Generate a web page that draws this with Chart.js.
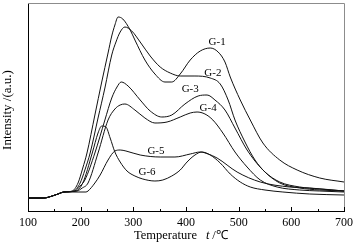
<!DOCTYPE html>
<html>
<head>
<meta charset="utf-8">
<script src="https://cdn.jsdelivr.net/npm/chart.js@4"></script>
<style>
html, body { margin: 0; padding: 0; background: #fff; }
</style>
</head>
<body>
<canvas id="tpd" width="359" height="246"></canvas>
<script>
// curves: temperature (C) and intensity (a.u.)
const g1Temp = [100,130,146,157,168,184,195,204,212,227,240,252,259,265,271,280,294,303,322,341,360,373,389,408,427,446,461,474,484,503,522,546,578,611,654,700];
const g1Int  = [13,13,15,17,19,20,28,43,58,96,129,158,175,186,194,192,181,171,151,137,129,129,137,151,160,163,159,149,134,111,91,68,51,41,33,29];

const g2Temp = [100,130,146,157,168,187,199,208,218,233,246,259,267,275,284,297,313,332,351,370,389,417,446,465,480,493,512,531,550,578,616,654,700];
const g2Int  = [13,13,15,17,19,20,28,41,58,93,123,156,169,179,184,180,169,155,144,138,135,135,133,127,111,91,69,51,39,29,24,22,20];

const g3Temp = [100,130,146,157,168,189,199,208,227,246,259,269,277,290,313,332,354,373,398,423,440,455,474,493,516,546,578,616,654,700];
const g3Int  = [13,13,15,17,19,20,25,31,58,91,113,124,129,125,111,100,94,96,107,115,116,111,101,83,61,41,28,23,21,20];

const g4Temp = [100,130,146,157,168,193,203,214,233,252,265,275,284,303,322,341,364,389,408,421,436,451,470,493,516,541,573,616,654,700];
const g4Int  = [13,13,15,17,19,20,23,28,58,91,102,106,107,101,93,88,89,94,98,99,97,91,78,59,44,31,24,21,20,19];

const g5Temp = [100,130,146,157,168,210,214,227,237,252,265,275,286,313,351,379,408,427,442,459,497,541,597,635,700];
const g5Int  = [13,13,15,17,19,19,20,28,36,51,60,61,60,56,54,54,57,59,57,53,39,29,24,23,20];

const g6Temp = [100,130,146,157,168,191,204,222,233,240,248,256,265,275,288,303,318,341,356,373,389,402,417,430,446,465,484,503,522,550,584,635,700];
const g6Int  = [13,13,15,17,19,20,28,58,78,85,84,73,59,49,40,35,32,30,31,35,41,49,56,59,56,48,37,29,24,21,19,17,16];

const seriesNames = ['G-1', 'G-2', 'G-3', 'G-4', 'G-5', 'G-6'];
const labelTemp = [459, 451, 408, 442, 343, 326];
const labelInt  = [169, 138, 122, 103, 60, 39];
const xTickLabels = [100, 200, 300, 400, 500, 600, 700];

const serif = "'Liberation Serif', 'Times New Roman', serif";

const toPoints = (temps, vals) => temps.map((t, i) => ({x: t, y: vals[i]}));
const curves = [[g1Temp, g1Int], [g2Temp, g2Int], [g3Temp, g3Int], [g4Temp, g4Int], [g5Temp, g5Int], [g6Temp, g6Int]];

// frame on top/right, inward ticks, curve names and axis titles
const decorations = {
    id: 'decorations',
    afterDraw(chart) {
        const {ctx, chartArea: a, scales: {x, y}} = chart;
        ctx.save();
        ctx.lineWidth = 1;
        ctx.strokeStyle = '#8c8c8c';
        ctx.beginPath();
        ctx.moveTo(a.left, a.top + 0.5);
        ctx.lineTo(a.right + 0.5, a.top + 0.5);
        ctx.lineTo(a.right + 0.5, a.bottom);
        ctx.stroke();

        ctx.strokeStyle = '#000';
        ctx.beginPath();
        xTickLabels.forEach((t, i) => {
            const px = Math.round(x.getPixelForValue(t)) + 0.5;
            ctx.moveTo(px, a.bottom); ctx.lineTo(px, a.bottom - 4);
            if (i < xTickLabels.length - 1) {
                const mx = Math.round(x.getPixelForValue((t + xTickLabels[i + 1]) / 2)) + 0.5;
                ctx.moveTo(mx, a.bottom); ctx.lineTo(mx, a.bottom - 2);
            }
        });
        ctx.stroke();

        ctx.fillStyle = '#000';
        ctx.font = '11px ' + serif;
        ctx.textAlign = 'center';
        ctx.textBaseline = 'middle';
        seriesNames.forEach((name, i) => {
            ctx.fillText(name, x.getPixelForValue(labelTemp[i]), y.getPixelForValue(labelInt[i]));
        });

        ctx.save();
        ctx.translate(8, 110);
        ctx.rotate(-Math.PI / 2);
        ctx.font = '13px ' + serif;
        ctx.fillText('Intensity /(a.u.)', 0, 0);
        ctx.restore();

        ctx.textAlign = 'left';
        ctx.textBaseline = 'alphabetic';
        ctx.font = '12.5px ' + serif;
        ctx.fillText('Temperature', 134, 239);
        ctx.font = 'italic 12.5px ' + serif;
        ctx.fillText('t', 206, 239);
        ctx.font = '12.5px ' + serif;
        ctx.fillText(' /\u2103', 209, 239);
        ctx.restore();
    }
};

const ctx = document.getElementById('tpd').getContext('2d');
new Chart(ctx, {
    type: 'line',
    data: {
        datasets: curves.map((c, i) => ({
            label: seriesNames[i],
            data: toPoints(c[0], c[1]),
            borderColor: '#111',
            borderWidth: 1,
            pointRadius: 0,
            cubicInterpolationMode: 'monotone',
            fill: false
        }))
    },
    options: {
        responsive: false,
        animation: false,
        devicePixelRatio: 1,
        layout: { padding: { top: 3, right: 15, left: 0, bottom: 0 } },
        plugins: { legend: { display: false }, tooltip: { enabled: false } },
        scales: {
            x: {
                type: 'linear',
                min: 100,
                max: 700,
                afterFit: (s) => { s.height = 35; },
                ticks: {
                    stepSize: 100,
                    autoSkip: false,
                    maxRotation: 0,
                    padding: 5,
                    color: '#000',
                    font: { family: serif, size: 12 }
                },
                grid: { drawOnChartArea: false, drawTicks: false },
                border: { color: '#000', width: 1 }
            },
            y: {
                min: 0,
                max: 208,
                afterFit: (s) => { s.width = 28; },
                ticks: { display: false },
                grid: { drawOnChartArea: false, drawTicks: false },
                border: { color: '#000', width: 1 }
            }
        }
    },
    plugins: [decorations]
});
</script>
</body>
</html>
